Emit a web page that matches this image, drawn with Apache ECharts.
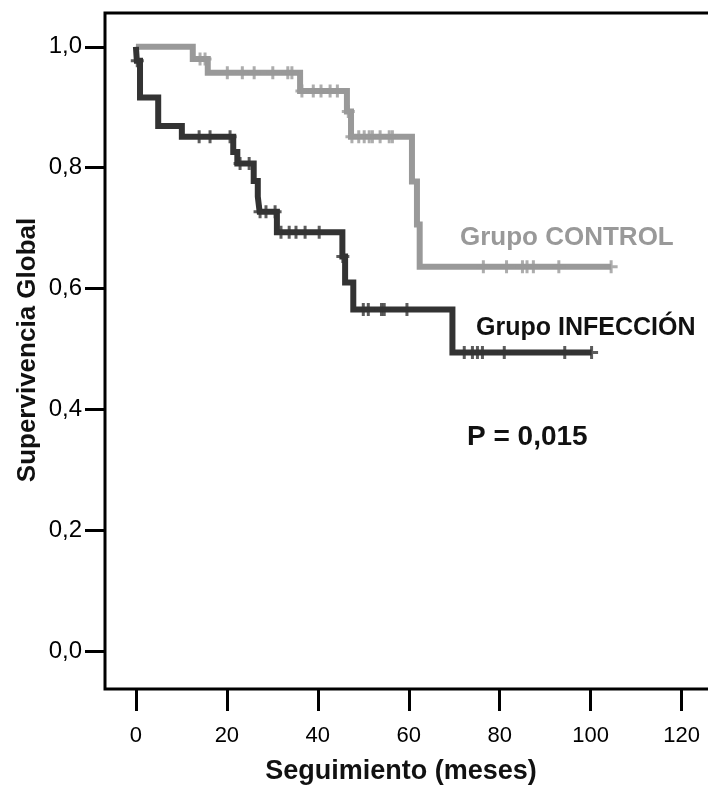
<!DOCTYPE html>
<html>
<head>
<meta charset="utf-8">
<script src="https://cdn.jsdelivr.net/npm/echarts@6/dist/echarts.min.js"></script>
<style>
html,body{margin:0;padding:0;background:#fff;}
#main{width:708px;height:789px;}
</style>
</head>
<body>
<div id="main"></div>
<script>
// ejes
const xTicks = [0, 20, 40, 60, 80, 100, 120];
const yTicks = [0, 0.2, 0.4, 0.6, 0.8, 1.0];

// Grupo CONTROL: tiempos de evento y supervivencia tras el evento
const controlTime = [0, 12.5, 15.8, 36.1, 46.4, 47.3, 60.7, 61.8, 62.4];
const controlSurv = [1.0, 0.980, 0.957, 0.927, 0.893, 0.851, 0.777, 0.706, 0.636];
const controlEnd = 104.5;
const controlCensor = [14.1, 15.2, 20.1, 23.4, 26.0, 30.1, 33.4, 34.3,
  36.5, 39.0, 40.7, 42.7, 44.3, 46.7, 47.5, 49.0, 50.2, 51.3, 52.0, 53.7, 55.7, 56.4,
  76.4, 81.5, 85.0, 86.0, 87.4, 93.0, 104.5];

// Grupo INFECCION
const infecTime = [0, 0.2, 0.9, 4.9, 10.1, 21.4, 22.3, 25.9, 26.8, 27.2, 31.0, 45.4, 46.0, 47.8, 69.6];
const infecSurv = [1.0, 0.977, 0.916, 0.869, 0.851, 0.826, 0.807, 0.778, 0.752, 0.727, 0.693, 0.653, 0.610, 0.565, 0.494];
const infecEnd = 100.2;
const infecCensor = [0.3, 13.9, 16.3, 20.7, 22.9, 24.9, 27.3, 28.6, 30.6,
  31.9, 33.7, 35.2, 37.2, 40.3, 45.5, 50.0, 51.1, 54.0, 54.6, 59.6,
  72.2, 74.0, 75.1, 76.2, 81.0, 94.3, 100.2];

const fontFam = '"Liberation Sans", Arial, sans-serif';
const plus = 'path://M5,0h3v5h5v3h-5v5h-3v-5h-5v-3h5z';

function stepData(times, surv, end) {
  let d = times.map((t, i) => [t, surv[i]]);
  d.push([end, surv[surv.length - 1]]);
  return d;
}
function censorData(times, surv, cens) {
  return cens.map(c => {
    let v = surv[0];
    for (let i = 0; i < times.length; i++) if (times[i] <= c) v = surv[i];
    return [c, v];
  });
}

let myChart = echarts.init(document.getElementById('main'));
let option = {
  animation: false,
  backgroundColor: '#fff',
  grid: {
    left: 105, top: 13, right: -10, bottom: 100,
    outerBoundsMode: 'none', containLabel: false,
    show: true, borderColor: '#000', borderWidth: 3
  },
  xAxis: {
    type: 'value', min: -6.8, max: 128,
    axisLine: { show: false, onZero: false },
    splitLine: { show: false },
    axisTick: { customValues: xTicks, length: 22, lineStyle: { color: '#000', width: 3 } },
    axisLabel: { customValues: xTicks, margin: 36, fontSize: 22, color: '#000', fontFamily: fontFam }
  },
  yAxis: {
    type: 'value', min: -0.063, max: 1.056,
    axisLine: { show: false, onZero: false },
    splitLine: { show: false },
    axisTick: { customValues: yTicks, length: 20, lineStyle: { color: '#000', width: 3 } },
    axisLabel: {
      customValues: yTicks, margin: 23, fontSize: 24, color: '#000', fontFamily: fontFam,
      formatter: v => v.toFixed(1).replace('.', ',')
    }
  },
  series: [
    {
      name: 'Grupo CONTROL', type: 'line', step: 'end', showSymbol: false,
      data: stepData(controlTime, controlSurv, controlEnd),
      lineStyle: { color: '#999999', width: 6, join: 'miter', cap: 'butt' }, z: 2
    },
    {
      type: 'scatter', symbol: plus, symbolSize: 13,
      data: censorData(controlTime, controlSurv, controlCensor),
      itemStyle: { color: '#999999' }, z: 3
    },
    {
      name: 'Grupo INFECCIÓN', type: 'line', step: 'end', showSymbol: false,
      data: stepData(infecTime, infecSurv, infecEnd),
      lineStyle: { color: '#333333', width: 6, join: 'miter', cap: 'butt' }, z: 4
    },
    {
      type: 'scatter', symbol: plus, symbolSize: 13,
      data: censorData(infecTime, infecSurv, infecCensor),
      itemStyle: { color: '#333333' }, z: 5
    }
  ],
  graphic: [
    { type: 'text', x: 460, y: 238, style: { text: 'Grupo CONTROL', fill: '#999999', font: 'bold 26px ' + fontFam, align: 'left', textAlign: 'left', verticalAlign: 'middle', textVerticalAlign: 'middle' } },
    { type: 'text', x: 476, y: 328, style: { text: 'Grupo INFECCIÓN', fill: '#111111', font: 'bold 25px ' + fontFam, align: 'left', textAlign: 'left', verticalAlign: 'middle', textVerticalAlign: 'middle' } },
    { type: 'text', x: 467, y: 437, style: { text: 'P = 0,015', fill: '#111111', font: 'bold 28px ' + fontFam, align: 'left', textAlign: 'left', verticalAlign: 'middle', textVerticalAlign: 'middle' } },
    { type: 'text', x: 401, y: 772, style: { text: 'Seguimiento (meses)', fill: '#111111', font: 'bold 27px ' + fontFam, align: 'center', textAlign: 'center', verticalAlign: 'middle', textVerticalAlign: 'middle' } },
    { type: 'text', x: 28, y: 350, rotation: Math.PI / 2, style: { text: 'Supervivencia Global', fill: '#111111', font: 'bold 26px ' + fontFam, align: 'center', textAlign: 'center', verticalAlign: 'middle', textVerticalAlign: 'middle' } }
  ]
};
myChart.setOption(option);
</script>
</body>
</html>
